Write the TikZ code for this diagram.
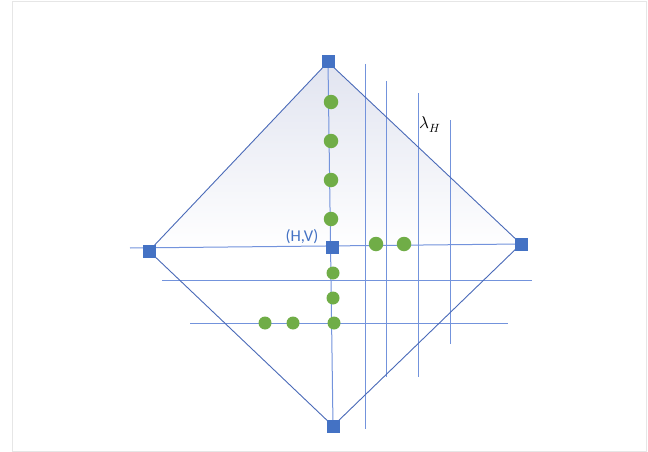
\documentclass[tikz,border=0pt]{standalone}
\usepackage{fontspec}
\setmainfont{Carlito}
\usepackage{unicode-math}
\setmathfont{Latin Modern Math}
\definecolor{sqblue}{HTML}{4472C4}
\definecolor{edgeblue}{HTML}{4A6AB8}
\definecolor{gridblue}{HTML}{7393DC}
\definecolor{dotgreen}{HTML}{70AD47}
\definecolor{shadetop}{HTML}{E1E4F0}
\definecolor{framegray}{HTML}{E6E6E6}
\tikzset{
  sq/.style={fill=sqblue, minimum size=13pt, inner sep=0pt, outer sep=0pt},
  bigdot/.style={circle, fill=dotgreen, minimum size=14.5pt, inner sep=0pt},
  smalldot/.style={circle, fill=dotgreen, minimum size=13pt, inner sep=0pt},
  edge/.style={draw=edgeblue, line width=0.9pt},
  gridline/.style={draw=gridblue, line width=1pt},
}
\begin{document}
\begin{tikzpicture}[x=1pt,y=-1pt]
\useasboundingbox (0,0) rectangle (648,452);
\draw[framegray, line width=1pt] (12,2) rectangle (646,451);
% fill of diamond
\fill[white] (328,62) -- (521,244) -- (333,426) -- (149,251) -- cycle;
\shade[top color=shadetop, bottom color=white] (328,62) -- (521,244) -- (333,246) -- (149,251) -- cycle;
% coordinates
\coordinate (hl) at (130,248);
\coordinate (v1t) at (365,64);  \coordinate (v1b) at (365,429);
\coordinate (v2t) at (386,81);  \coordinate (v2b) at (386,377);
\coordinate (v3t) at (418,93);  \coordinate (v3b) at (418,377);
\coordinate (v4t) at (450,120); \coordinate (v4b) at (450,344);
\coordinate (h1l) at (162,280); \coordinate (h1r) at (532,280);
\coordinate (h2l) at (190,323); \coordinate (h2r) at (508,323);
% grid lines
\draw[gridline] (v1t) -- (v1b);
\draw[gridline] (v2t) -- (v2b);
\draw[gridline] (v3t) -- (v3b);
\draw[gridline] (v4t) -- (v4b);
\draw[gridline] (h1l) -- (h1r);
\draw[gridline] (h2l) -- (h2r);
% corner positions
\coordinate (Tc) at (328,62);
\coordinate (Rc) at (521,244);
\coordinate (Bc) at (333,426);
\coordinate (Lc) at (149,251);
% diamond edges
\draw[edge] (Tc) -- (Rc) -- (Bc) -- (Lc) -- cycle;
% axes
\draw[gridline] (hl) -- (Rc);
\draw[gridline] (Tc) -- (Bc);
% squares
\node[sq] (T) at (Tc) {};
\node[sq] (R) at (Rc) {};
\node[sq] (B) at (Bc) {};
\node[sq] (L) at (Lc) {};
\node[sq] (C) at (332,247) {};
% dots
\node[bigdot] (d1) at (331,102) {};
\node[bigdot] (d2) at (331,141) {};
\node[bigdot] (d3) at (331,180) {};
\node[bigdot] (d4) at (331,219) {};
\node[bigdot] (d5) at (376,244) {};
\node[bigdot] (d6) at (404,244) {};
\node[smalldot] (d7) at (333,273) {};
\node[smalldot] (d8) at (333,298) {};
\node[smalldot] (d9) at (334,323) {};
\node[smalldot] (d10) at (265,323) {};
\node[smalldot] (d11) at (293,323) {};
% labels
\node[text=sqblue, font=\fontsize{16.5}{18}\selectfont, inner sep=0pt] (hv) at (302,237) {(H,V)};
\node[font=\fontsize{17}{19}\selectfont, inner sep=0pt] (lam) at (430,125) {$\lambda_H$};
\end{tikzpicture}
\end{document}
